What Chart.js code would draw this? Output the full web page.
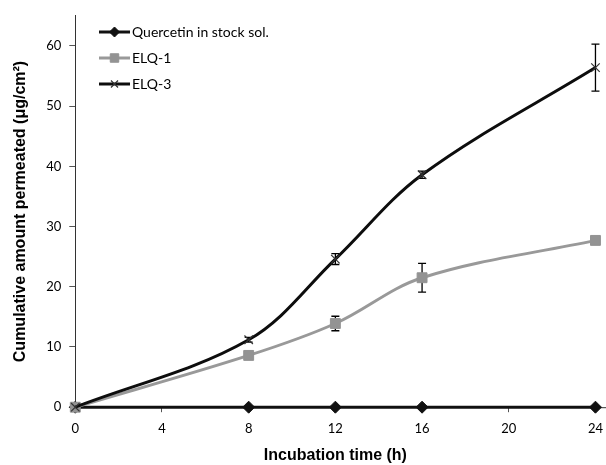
<!DOCTYPE html>
<html>
<head>
<meta charset="utf-8">
<script src="https://cdn.jsdelivr.net/npm/chart.js@4/dist/chart.umd.min.js"></script>
<style>
html,body{margin:0;padding:0;background:#fff;overflow:hidden;}
#wrap{width:606px;height:465px;position:relative;overflow:hidden;}
</style>
</head>
<body>
<div id="wrap"><canvas id="c" width="612" height="465"></canvas></div>
<script>
const hours = [0, 8, 12, 16, 24];
const quercetin = [0, 0, 0, 0, 0];
const elq1 = [0, 8.6, 13.9, 21.5, 27.7];
const elq1Err = [0, 0.5, 1.2, 2.4, 0.4];
const elq3 = [0, 11.2, 24.6, 38.6, 56.4];
const elq3Err = [0, 0.4, 0.9, 0.6, 3.9];
const xTicks = [0, 4, 8, 12, 16, 20, 24];
const yTicks = [0, 10, 20, 30, 40, 50, 60];
const seriesNames = ['Quercetin in stock sol.', 'ELQ-1', 'ELQ-3'];

const FONT = 'Lato, "Open Sans", sans-serif';
const TFONT = '"Liberation Sans", Arial, sans-serif';
const pts = (ys) => hours.map((h, i) => ({x: h, y: ys[i]}));

const errorBars = {
  id: 'errorBars',
  beforeDatasetsDraw(chart) {
    const ctx = chart.ctx;
    const xs = chart.scales.x, ys = chart.scales.y;
    const sets = [[elq1, elq1Err], [elq3, elq3Err]];
    ctx.save();
    ctx.strokeStyle = '#000';
    ctx.lineWidth = 1.3;
    sets.forEach(([vals, errs]) => {
      hours.forEach((h, i) => {
        if (!errs[i]) return;
        const px = xs.getPixelForValue(h);
        const top = ys.getPixelForValue(vals[i] + errs[i]);
        const bot = ys.getPixelForValue(vals[i] - errs[i]);
        ctx.beginPath();
        ctx.moveTo(px, top); ctx.lineTo(px, bot);
        ctx.moveTo(px - 4, top); ctx.lineTo(px + 4, top);
        ctx.moveTo(px - 4, bot); ctx.lineTo(px + 4, bot);
        ctx.stroke();
      });
    });
    ctx.restore();
  }
};

const axisExtend = {
  id: 'axisExtend',
  beforeDatasetsDraw(chart) {
    const ctx = chart.ctx, a = chart.chartArea;
    ctx.save();
    ctx.strokeStyle = '#333'; ctx.lineWidth = 1;
    ctx.beginPath(); ctx.moveTo(a.right, a.bottom + 0.5); ctx.lineTo(chart.width, a.bottom + 0.5); ctx.stroke();
    ctx.restore();
  }
};

const insideLegend = {
  id: 'insideLegend',
  afterDraw(chart) {
    const ctx = chart.ctx;
    const x0 = 99, x1 = 130, rowY = [32, 58, 84];
    ctx.save();
    chart.data.datasets.forEach((ds, i) => {
      const y = rowY[i];
      ctx.strokeStyle = ds.borderColor;
      ctx.lineWidth = 3;
      ctx.beginPath(); ctx.moveTo(x0, y); ctx.lineTo(x1, y); ctx.stroke();
      ctx.fillStyle = ds.pointBackgroundColor;
      ctx.strokeStyle = ds.pointBorderColor;
      ctx.lineWidth = ds.pointBorderWidth;
      Chart.helpers.drawPoint(ctx, {
        pointStyle: ds.pointStyle, radius: ds.pointRadius - 1, rotation: 0, borderWidth: ds.pointBorderWidth
      }, (x0 + x1) / 2, y);
      ctx.fillStyle = '#000';
      ctx.font = '14px ' + FONT;
      ctx.textBaseline = 'middle';
      ctx.textAlign = 'left';
      ctx.fillText(ds.label, x1 + 2, y);
    });
    ctx.restore();
  }
};

new Chart(document.getElementById('c'), {
  type: 'line',
  data: {
    datasets: [
      {
        label: seriesNames[0], data: pts(quercetin), clip: false,
        borderColor: '#111', borderWidth: 3, tension: 0,
        pointStyle: 'rectRot', pointRadius: 6, pointBackgroundColor: '#111',
        pointBorderColor: '#111', pointBorderWidth: 1, order: 3
      },
      {
        label: seriesNames[1], data: pts(elq1), clip: false,
        borderColor: '#999999', borderWidth: 3, tension: 0.35,
        pointStyle: 'rect', pointRadius: 7, pointBackgroundColor: '#939393',
        pointBorderColor: '#939393', pointBorderWidth: 1, order: 2
      },
      {
        label: seriesNames[2], data: pts(elq3), clip: false,
        borderColor: '#0d0d0d', borderWidth: 3, tension: 0.35,
        pointStyle: 'crossRot', pointRadius: 6, pointBackgroundColor: '#333',
        pointBorderColor: '#333', pointBorderWidth: 1.2, order: 1
      }
    ]
  },
  options: {
    responsive: false,
    animation: false,
    layout: {padding: {left: 11, right: 5, top: 14, bottom: 0}},
    plugins: {legend: {display: false}, tooltip: {enabled: false}},
    scales: {
      x: {
        type: 'linear', min: 0, max: 24,
        afterBuildTicks: (s) => { s.ticks = xTicks.map(v => ({value: v})); },
        grid: {display: true, drawOnChartArea: false, color: '#000', tickLength: 5, tickColor: '#555'},
        border: {color: '#333', width: 1},
        ticks: {color: '#000', font: {size: 13, family: FONT}, padding: 9, maxRotation: 0},
        title: {display: true, text: 'Incubation time (h)', color: '#000',
                font: {size: 16, weight: 'bold', family: TFONT}, padding: {top: 0, bottom: 0}}
      },
      y: {
        min: 0, max: 65,
        afterBuildTicks: (s) => { s.ticks = yTicks.map(v => ({value: v})); },
        grid: {display: true, drawOnChartArea: false, color: '#000', tickLength: 6, tickColor: '#555'},
        border: {color: '#333', width: 1},
        ticks: {color: '#000', font: {size: 13, family: FONT}, padding: 8},
        title: {display: true, text: 'Cumulative amount permeated (μg/cm²)', color: '#000',
                font: {size: 16, weight: 'bold', family: TFONT}, padding: {top: 0, bottom: 8}}
      }
    }
  },
  plugins: [axisExtend, errorBars, insideLegend]
});
</script>
</body>
</html>
